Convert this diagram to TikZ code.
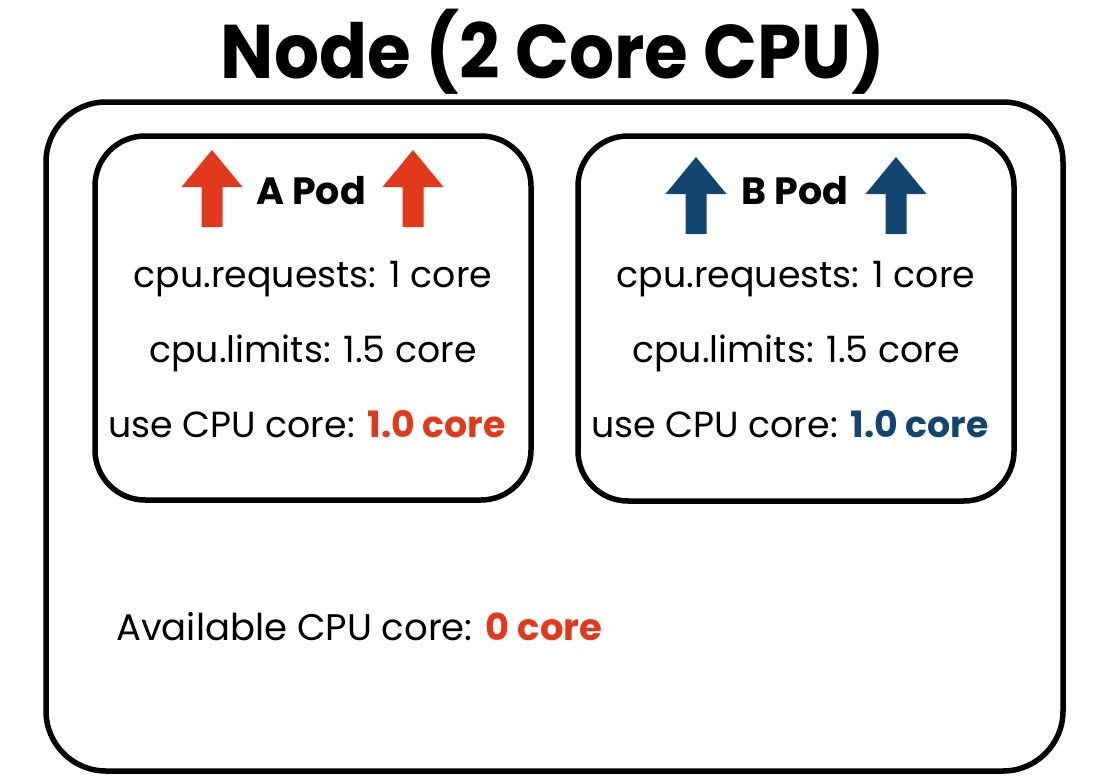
\documentclass[tikz,border=0pt]{standalone}
\usepackage{fontspec}
\setmainfont{Poppins}
\newfontfamily\titlefont[FakeStretch=0.932]{Poppins}
\definecolor{podred}{HTML}{E2391C}
\definecolor{podblue}{HTML}{134571}
\tikzset{
  box/.style={draw=black, line width=5.5pt, rounded corners=#1, inner sep=0pt},
  uparr/.pic={\fill[pic actions] (0,0) -- (30.5,37) -- (10.5,37) -- (10.5,77) -- (-10.5,77) -- (-10.5,37) -- (-30.5,37) -- cycle;},
  line/.style={anchor=base, inner sep=0pt, font=\fontsize{36.3}{40}\selectfont},
  head/.style={anchor=base, inner sep=0pt, font=\fontsize{38}{44}\selectfont\bfseries},
}
\begin{document}
\begin{tikzpicture}[x=1pt,y=-1pt]
\useasboundingbox (0,0) rectangle (1104,782);
\node[anchor=base, inner sep=0pt, font=\fontsize{76}{80}\titlefont\bfseries] (title) at (553,78) {Node (2 Core CPU)};
\node[box=60pt, minimum width=1017pt, minimum height=669pt] (node) at (554.5,436.5) {};
\node[box=50pt, minimum width=436pt, minimum height=364pt] (podA) at (313,318) {};
\node[box=50pt, minimum width=436pt, minimum height=365pt] (podB) at (796,318.5) {};
% A pod
\pic[fill=podred] (aL) at (212,150) {uparr};
\pic[fill=podred] (aR) at (413,150) {uparr};
\node[head] (aTitle) at (311,204) {A Pod};
\node[line] (aReq) at (313,287) {cpu.requests: 1 core};
\node[line] (aLim) at (313,362) {cpu.limits: 1.5 core};
\node[line] (aUse) at (307,437) {use CPU core: \textbf{\color{podred}1.0 core}};
% B pod
\pic[fill=podblue] (bL) at (696,157) {uparr};
\pic[fill=podblue] (bR) at (896,157) {uparr};
\node[head] (bTitle) at (795,204) {B Pod};
\node[line] (bReq) at (796,287) {cpu.requests: 1 core};
\node[line] (bLim) at (796,362) {cpu.limits: 1.5 core};
\node[line] (bUse) at (790,437) {use CPU core: \textbf{\color{podblue}1.0 core}};
% available
\node[anchor=base west, inner sep=0pt, font=\fontsize{37}{44}\selectfont] (avail) at (116,640) {Available CPU core: \textbf{\color{podred}0 core}};
\end{tikzpicture}
\end{document}
